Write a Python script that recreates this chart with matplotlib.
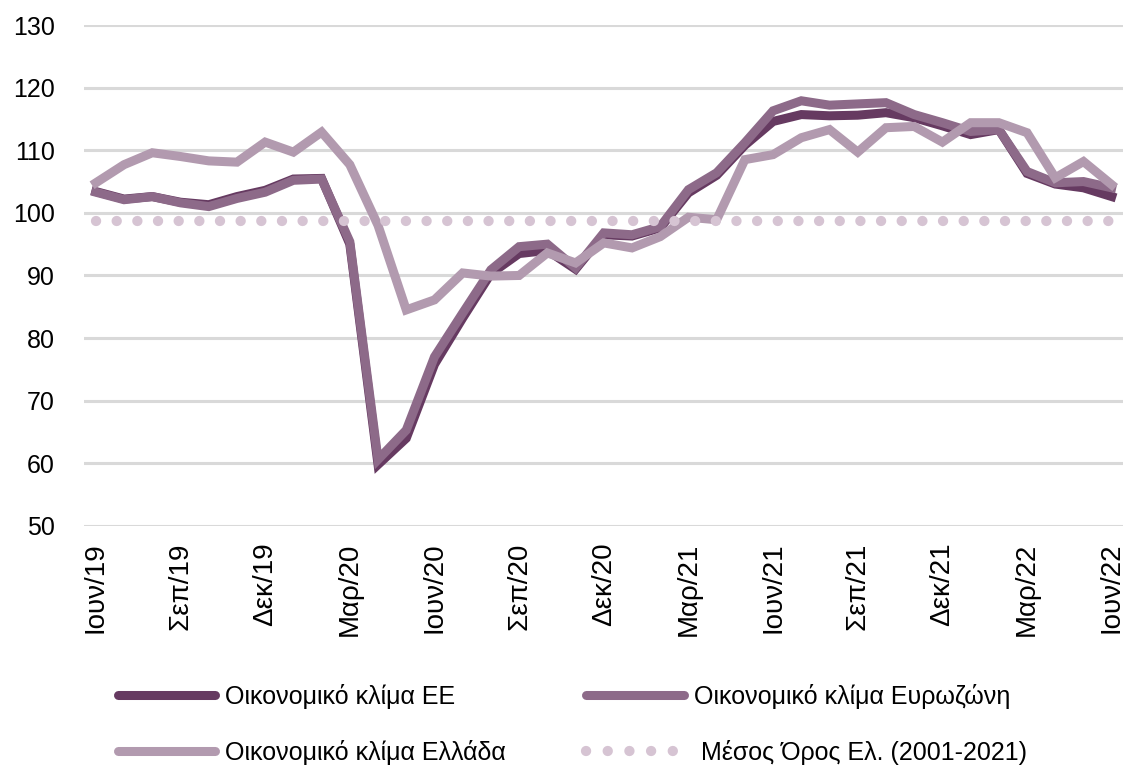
import matplotlib
matplotlib.use("Agg")
import matplotlib.pyplot as plt
from matplotlib.lines import Line2D

plt.rcParams['font.family'] = ['Liberation Sans', 'DejaVu Sans']

# monthly data Jun/19 .. Jun/22
tick_labels = ['Ιουν/19', 'Σεπ/19', 'Δεκ/19', 'Μαρ/20', 'Ιουν/20', 'Σεπ/20', 'Δεκ/20',
               'Μαρ/21', 'Ιουν/21', 'Σεπ/21', 'Δεκ/21', 'Μαρ/22', 'Ιουν/22']

eu = [103.4, 102.2, 102.6, 101.7, 101.3, 102.6, 103.6, 105.4, 105.5, 95.0,
      59.8, 64.0, 75.8, 83.2, 90.3, 93.5, 94.0, 91.0, 96.5, 96.3,
      97.6, 103.2, 106.0, 110.8, 114.6, 115.7, 115.5, 115.6, 116.0, 115.2,
      113.9, 112.5, 113.3, 106.3, 104.6, 104.0, 102.6]
ez = [103.3, 102.1, 102.6, 101.6, 101.0, 102.3, 103.3, 105.2, 105.4, 95.4,
      60.6, 65.3, 77.0, 84.0, 90.9, 94.6, 95.0, 91.2, 96.8, 96.5,
      97.8, 103.7, 106.4, 111.2, 116.3, 117.9, 117.2, 117.4, 117.6, 115.7,
      114.4, 113.0, 113.3, 106.6, 104.8, 105.0, 104.0]
gr = [104.8, 107.7, 109.6, 109.0, 108.3, 108.1, 111.3, 109.7, 112.9, 107.7,
      98.0, 84.5, 86.1, 90.4, 89.9, 90.0, 93.6, 92.0, 95.2, 94.4,
      96.2, 99.3, 98.9, 108.5, 109.3, 112.0, 113.3, 109.7, 113.6, 113.8,
      111.3, 114.4, 114.4, 112.8, 105.6, 108.2, 104.5]
avg_gr = 98.7

labels = ['Οικονομικό κλίμα ΕΕ', 'Οικονομικό κλίμα Ευρωζώνη',
          'Οικονομικό κλίμα Ελλάδα', ' Μέσος Όρος Ελ. (2001-2021)']
colors = ['#663A61', '#8D6A89', '#B29AAF', '#D6C4D3']

x = list(range(len(eu)))

fig = plt.figure(figsize=(11.23, 7.70), dpi=100)
ax = fig.add_axes([0.0748, 0.317, 0.9252, 0.6505])

ax.set_ylim(50, 130)
ax.set_xlim(-0.42, 36.4)
ax.set_yticks(range(50, 131, 10))
for v in range(50, 131, 10):
    ax.axhline(v, color='#D9D9D9', lw=2.2, zorder=0)

lw = 6.5
ax.plot(x, eu, color=colors[0], lw=lw, solid_joinstyle='miter', zorder=2)
ax.plot(x, ez, color=colors[1], lw=lw, solid_joinstyle='miter', zorder=3)
ax.plot(x, gr, color=colors[2], lw=lw, solid_joinstyle='miter', zorder=4)
ax.plot(x, [avg_gr] * len(x), color=colors[3], lw=7.4,
        linestyle=(0, (0.01, 2.0)), dash_capstyle='round', zorder=5)

ax.set_xticks(x[::3])
ax.set_xticklabels(tick_labels, rotation=90, fontsize=20)
ax.tick_params(axis='x', length=0, pad=12)
ax.tick_params(axis='y', length=0, pad=21, labelsize=18)
for s in ax.spines.values():
    s.set_visible(False)

handles = [
    Line2D([], [], color=colors[0], lw=lw, solid_capstyle='round'),
    Line2D([], [], color=colors[2], lw=lw, solid_capstyle='round'),
    Line2D([], [], color=colors[1], lw=lw, solid_capstyle='round'),
    Line2D([], [], color=colors[3], lw=7.4, linestyle=(0, (0.01, 2.1)),
           dash_capstyle='round'),
]
fig.legend(handles, [labels[0], labels[2], labels[1], labels[3]],
           ncol=2, loc='center left', bbox_to_anchor=(0.085, 0.059),
           frameon=False, fontsize=18, handlelength=3.9, handletextpad=0.4,
           columnspacing=3.2, labelspacing=1.25)

fig.savefig('out.png', dpi=100)
